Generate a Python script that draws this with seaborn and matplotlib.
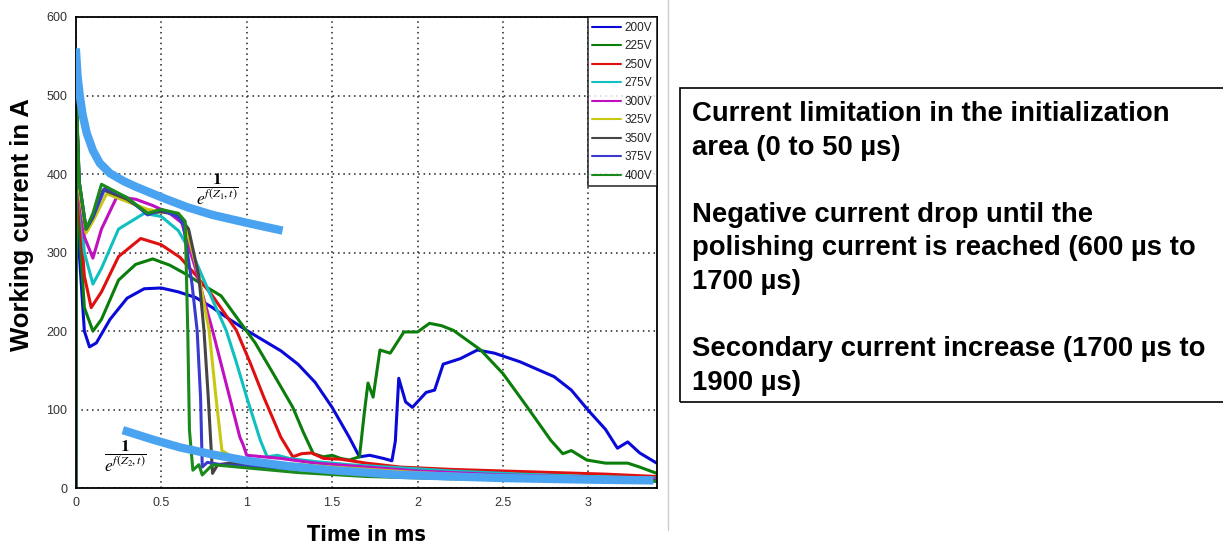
import numpy as np
import pandas as pd
import matplotlib
matplotlib.use("Agg")
import matplotlib.pyplot as plt
import seaborn as sns
from matplotlib.patches import Rectangle
from matplotlib.lines import Line2D

# ---------------- data ----------------
voltages = ["200V", "225V", "250V", "275V", "300V", "325V", "350V", "375V", "400V"]

t_200 = [0, 0.005, 0.02, 0.05, 0.08, 0.12, 0.2, 0.3, 0.4, 0.5, 0.6, 0.7, 0.8, 0.9, 1.0, 1.1, 1.2, 1.3, 1.4, 1.5,
         1.6, 1.66, 1.72, 1.8, 1.85, 1.87, 1.89, 1.93, 1.97, 2.05, 2.1, 2.15, 2.25, 2.35, 2.45, 2.6, 2.8, 2.9, 3.0,
         3.1, 3.17, 3.23, 3.3, 3.4]
i_200 = [0, 470, 300, 200, 180, 185, 215, 242, 254, 255, 250, 243, 230, 215, 201, 188, 175, 158, 135, 103,
         65, 40, 42, 38, 35, 60, 140, 110, 103, 122, 125, 158, 165, 176, 172, 161, 142, 125, 99,
         75, 51, 59, 45, 32]

t_225 = [0, 0.005, 0.02, 0.05, 0.1, 0.15, 0.25, 0.35, 0.45, 0.55, 0.65, 0.75, 0.85, 0.95, 1.05, 1.15, 1.27, 1.33,
         1.39, 1.45, 1.5, 1.55, 1.6, 1.66, 1.69, 1.71, 1.74, 1.78, 1.84, 1.92, 2.0, 2.07, 2.14, 2.21, 2.37, 2.5,
         2.64, 2.78, 2.85, 2.9, 2.99, 3.1, 3.23, 3.3, 3.4]
i_225 = [0, 480, 330, 230, 200, 215, 265, 285, 292, 284, 272, 258, 245, 215, 185, 148, 103, 72,
         44, 40, 42, 38, 36, 40, 99, 134, 116, 176, 172, 199, 199, 210, 207, 201, 176, 146,
         104, 61, 44, 48, 36, 32, 32, 27, 19]

t_250 = [0, 0.005, 0.02, 0.05, 0.09, 0.15, 0.25, 0.38, 0.5, 0.61, 0.7, 0.8, 0.94, 1.02, 1.1, 1.2, 1.27, 1.32,
         1.38, 1.45, 1.55, 1.7, 1.9, 2.2, 2.5, 2.8, 3.1, 3.4]
i_250 = [0, 480, 360, 270, 230, 250, 295, 318, 310, 294, 272, 245, 201, 160, 116, 65, 40, 44,
         45, 38, 37, 32, 27, 24, 22, 20, 18, 15]

t_275 = [0, 0.005, 0.02, 0.05, 0.1, 0.15, 0.25, 0.4, 0.5, 0.6, 0.7, 0.8, 0.88, 0.94, 1.0, 1.08, 1.12, 1.18,
         1.25, 1.4, 1.6, 1.9, 2.2, 2.6, 3.0, 3.4]
i_275 = [0, 480, 380, 300, 260, 280, 330, 350, 346, 328, 290, 240, 201, 160, 116, 61, 40, 42,
         38, 34, 30, 26, 22, 18, 15, 13]

t_300 = [0, 0.005, 0.02, 0.05, 0.1, 0.15, 0.24, 0.35, 0.45, 0.55, 0.62, 0.7, 0.8, 0.86, 0.9, 0.96, 0.98, 1.0,
         1.1, 1.2, 1.4, 1.7, 2.0, 2.5, 3.0, 3.4]
i_300 = [0, 480, 380, 320, 293, 330, 371, 368, 360, 350, 338, 280, 201, 150, 116, 65, 55, 42,
         40, 38, 32, 27, 22, 17, 14, 12]

t_325 = [0, 0.005, 0.02, 0.06, 0.1, 0.18, 0.3, 0.42, 0.5, 0.6, 0.66, 0.72, 0.78, 0.82, 0.855, 0.9, 1.0, 1.2,
         1.5, 2.0, 2.5, 3.0, 3.4]
i_325 = [0, 480, 380, 325, 340, 375, 365, 355, 352, 350, 320, 270, 201, 116, 48, 42, 36, 32,
         27, 20, 15, 12, 10]

t_350 = [0, 0.005, 0.02, 0.06, 0.1, 0.16, 0.3, 0.42, 0.5, 0.6, 0.66, 0.72, 0.75, 0.775, 0.8, 0.83, 0.9, 1.0,
         1.3, 1.7, 2.2, 2.8, 3.4]
i_350 = [0, 480, 390, 330, 345, 380, 368, 350, 352, 348, 330, 270, 201, 116, 19, 30, 32, 30,
         25, 20, 15, 12, 10]

t_375 = [0, 0.005, 0.02, 0.06, 0.1, 0.17, 0.3, 0.42, 0.5, 0.6, 0.63, 0.68, 0.71, 0.73, 0.74, 0.77, 0.85, 1.0,
         1.3, 1.7, 2.2, 2.8, 3.4]
i_375 = [0, 480, 390, 330, 345, 382, 370, 348, 355, 345, 335, 260, 201, 116, 27, 33, 30, 28,
         24, 19, 14, 11, 9]

t_400 = [0, 0.005, 0.02, 0.06, 0.1, 0.15, 0.3, 0.42, 0.5, 0.6, 0.64, 0.655, 0.665, 0.685, 0.72, 0.74, 0.8, 0.9,
         1.0, 1.3, 1.7, 2.2, 2.8, 3.4]
i_400 = [0, 485, 390, 330, 350, 387, 370, 350, 355, 350, 340, 201, 74, 23, 30, 17, 30, 28,
         26, 20, 15, 12, 10, 9]

# fitted envelope curves (light blue)
fit1_t = [0.0, 0.01, 0.023, 0.04, 0.064, 0.1, 0.14, 0.2, 0.28, 0.35, 0.45, 0.53, 0.65, 0.8, 1.0, 1.21]
fit1_i = [560, 525, 500, 475, 452, 430, 414, 401, 391, 384, 375, 368, 358, 348, 338, 328]
fit2_t = [0.275, 0.45, 0.61, 0.8, 1.0, 1.25, 1.5, 1.9, 2.5, 3.0, 3.38]
fit2_i = [74, 62, 52, 43, 35, 28, 23, 17, 13, 11, 10]

x_ticks = [0, 0.5, 1, 1.5, 2, 2.5, 3]
x_tick_labels = ["0", "0.5", "1", "1.5", "2", "2.5", "3"]
y_ticks = [0, 100, 200, 300, 400, 500, 600]

box_text = ("Current limitation in the initialization\narea (0 to 50 µs)\n\n"
            "Negative current drop until the\npolishing current is reached (600 µs to\n1700 µs)\n\n"
            "Secondary current increase (1700 µs to\n1900 µs)")

# ---------------- build table ----------------
series_t = [t_200, t_225, t_250, t_275, t_300, t_325, t_350, t_375, t_400]
series_i = [i_200, i_225, i_250, i_275, i_300, i_325, i_350, i_375, i_400]
frames = []
for v, tt, ii in zip(voltages, series_t, series_i):
    frames.append(pd.DataFrame({"Time": tt, "Current": ii, "Voltage": v}))
df = pd.concat(frames, ignore_index=True)

palette = {"200V": "#0a0ad8", "225V": "#0b7d0b", "250V": "#e01010", "275V": "#10c0c0",
           "300V": "#c010c0", "325V": "#c8c810", "350V": "#454545", "375V": "#3a3ad0",
           "400V": "#1a8a1a"}

sns.set_theme(style="white")
plt.rcParams["font.family"] = ["Liberation Sans", "DejaVu Sans"]
plt.rcParams["mathtext.fontset"] = "stix"
plt.rcParams["text.color"] = "black"
plt.rcParams["axes.labelcolor"] = "black"

fig = plt.figure(figsize=(12.23, 5.48), dpi=100)
ax = fig.add_axes([0.062, 0.109, 0.475, 0.860])

sns.lineplot(data=df, x="Time", y="Current", hue="Voltage", hue_order=voltages, palette=palette,
             sort=False, estimator=None, units="Voltage", linewidth=2.2, ax=ax, legend=False)

ax.plot(fit1_t, fit1_i, color="#4aa3f0", linewidth=6, solid_capstyle="butt", zorder=5)
ax.plot(fit2_t, fit2_i, color="#4aa3f0", linewidth=6, solid_capstyle="butt", zorder=5)

ax.set_xlim(0, 3.4)
ax.set_ylim(0, 600)
ax.set_xticks(x_ticks)
ax.set_xticklabels(x_tick_labels)
ax.set_yticks(y_ticks)
ax.grid(True, linestyle=(0, (1, 2.5)), color="#222222", linewidth=1.1)
for s in ax.spines.values():
    s.set_visible(True)
    s.set_color("black")
    s.set_linewidth(1.3)
ax.tick_params(axis="both", direction="in", length=4, labelsize=9, labelcolor="#333333",
               colors="black", pad=6)
ax.set_xlabel("")
ax.set_ylabel("")

# legend
handles = [Line2D([0], [0], color=palette[v], lw=1.5) for v in voltages]
leg = ax.legend(handles, voltages, loc="upper right", borderaxespad=0, fontsize=8.5,
                frameon=True, fancybox=False, handlelength=2.4, handletextpad=0.3,
                labelspacing=0.55, borderpad=0.4)
leg.get_frame().set_edgecolor("black")
leg.get_frame().set_linewidth(1.2)
leg.set_zorder(10)
for txt in leg.get_texts():
    txt.set_color("#222222")

# formula annotations
ax.text(0.83, 381, r"$\dfrac{\mathbf{1}}{e^{f(Z_1,t)}}$", fontsize=12.5, ha="center", va="center", zorder=6)
ax.text(0.29, 40, r"$\dfrac{\mathbf{1}}{e^{f(Z_2,t)}}$", fontsize=12.5, ha="center", va="center", zorder=6)

# axis labels
fig.text(0.018, 0.59, "Working current in A", rotation=90, ha="center", va="center",
         fontsize=18.5, fontweight="bold", color="black")
fig.text(0.300, 0.024, "Time in ms", ha="center", va="center", fontsize=15.5, fontweight="bold",
         family=["DejaVu Sans"], fontstretch="condensed", color="black")

# thin separator line of the original image
fig.add_artist(Line2D([668 / 1223, 668 / 1223], [18 / 548, 1.0], color="#cccccc", lw=1))

# text box
fig.add_artist(Rectangle((680 / 1223, (548 - 402) / 548), (1223 - 680) / 1223 + 0.01, (402 - 88) / 548,
                         transform=fig.transFigure, fill=False, edgecolor="black", lw=1.2))
fig.text(692 / 1223, (548 - 101) / 548, box_text, ha="left", va="top", fontsize=19.8,
         fontweight="bold", linespacing=1.38, color="black")

fig.savefig("out.png", dpi=100)
